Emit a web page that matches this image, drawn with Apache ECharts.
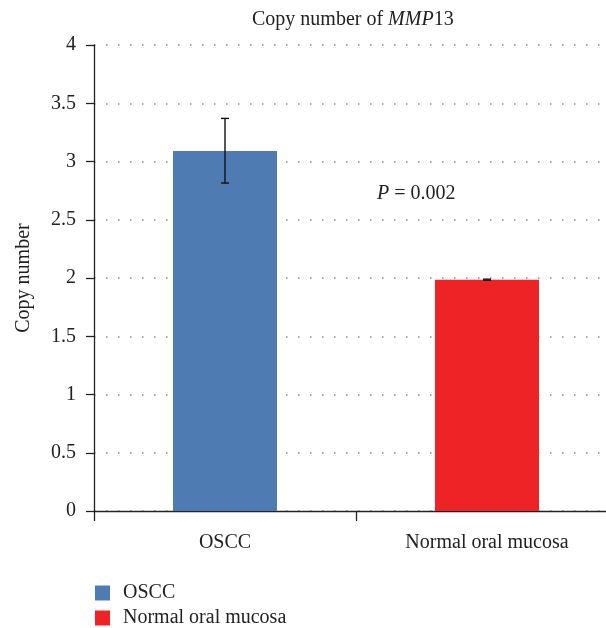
<!DOCTYPE html>
<html>
<head>
<meta charset="utf-8">
<script src="https://cdn.jsdelivr.net/npm/echarts@6/dist/echarts.min.js"></script>
<style>html,body{margin:0;padding:0;background:#fff;overflow:hidden}#c{width:640px;height:628px}</style>
</head>
<body>
<div id="c"></div>
<script>
const categories = ['OSCC', 'Normal oral mucosa'];
const seriesNames = ['OSCC', 'Normal oral mucosa'];
const means = [3.09, 1.985];
const errLow = [2.815, 1.98];
const errHigh = [3.37, 1.99];
const yTicks = [0, 0.5, 1, 1.5, 2, 2.5, 3, 3.5, 4];
const colors = ['#4d7bb2', '#ee2326'];

const font = 'Liberation Serif';
const fs = 20;
const chart = echarts.init(document.getElementById('c'));
const barSeries = seriesNames.map((n, i) => ({
  name: n,
  type: 'bar',
  stack: 'one',
  barWidth: 104,
  itemStyle: { color: colors[i] },
  data: categories.map((c, j) => (j === i ? means[j] : '-'))
}));
chart.setOption({
  animation: false,
  textStyle: { fontFamily: font },
  title: {
    text: 'Copy number of {i|MMP}13',
    left: 247, top: 5,
    textStyle: {
      fontFamily: font, fontSize: fs, fontWeight: 'normal', color: '#222',
      rich: { i: { fontFamily: font, fontSize: fs, fontStyle: 'italic', color: '#222' } }
    }
  },
  legend: {
    orient: 'vertical', left: 90, top: 578, height: 80,
    itemWidth: 15, itemHeight: 15, itemGap: 5, icon: 'rect',
    textStyle: { fontFamily: font, fontSize: fs, color: '#222', padding: [0, 0, 0, 8] },
    data: seriesNames
  },
  grid: { left: 94, right: 22, top: 45, bottom: 117, containLabel: false },
  xAxis: {
    type: 'category', data: categories,
    axisLine: { lineStyle: { color: '#222', width: 1.3 } },
    axisTick: { show: true, length: 10, lineStyle: { color: '#222', width: 1.3 } },
    axisLabel: { margin: 22, fontFamily: font, fontSize: fs, color: '#222' },
    splitLine: { show: false }
  },
  yAxis: {
    type: 'value', min: yTicks[0], max: yTicks[yTicks.length - 1], interval: 0.5,
    name: 'Copy number', nameLocation: 'middle', nameGap: 60, nameRotate: 90,
    nameTextStyle: { fontFamily: font, fontSize: fs, color: '#222' },
    axisLine: { show: true, lineStyle: { color: '#222', width: 1.3 } },
    axisTick: { show: true, length: 8, lineStyle: { color: '#222', width: 1.3 } },
    axisLabel: { margin: 18, fontFamily: font, fontSize: fs, color: '#222' },
    splitLine: { show: true, lineStyle: { color: '#8a8a8a', width: 1.5, type: [1.5, 10.5], dashOffset: -12 } }
  },
  series: barSeries.concat([{
    type: 'custom',
    name: 'err',
    silent: true,
    z: 10,
    data: categories.map((c, j) => [j, errLow[j], errHigh[j]]),
    renderItem: function (params, api) {
      const x = api.value(0);
      const lo = api.coord([x, api.value(1)]);
      const hi = api.coord([x, api.value(2)]);
      const w = 4;
      const st = { stroke: '#111', lineWidth: 1.4 };
      return {
        type: 'group',
        children: [
          { type: 'line', shape: { x1: lo[0], y1: lo[1], x2: hi[0], y2: hi[1] }, style: st },
          { type: 'line', shape: { x1: lo[0] - w, y1: lo[1], x2: lo[0] + w, y2: lo[1] }, style: st },
          { type: 'line', shape: { x1: hi[0] - w, y1: hi[1], x2: hi[0] + w, y2: hi[1] }, style: st }
        ]
      };
    }
  }]),
  graphic: [{
    type: 'text', left: 377, top: 184,
    style: {
      text: '{i|P} = 0.002',
      fontFamily: font, fontSize: fs, fill: '#222',
      rich: { i: { fontFamily: font, fontSize: fs, fontStyle: 'italic', fill: '#222' } }
    }
  }]
});
</script>
</body>
</html>
